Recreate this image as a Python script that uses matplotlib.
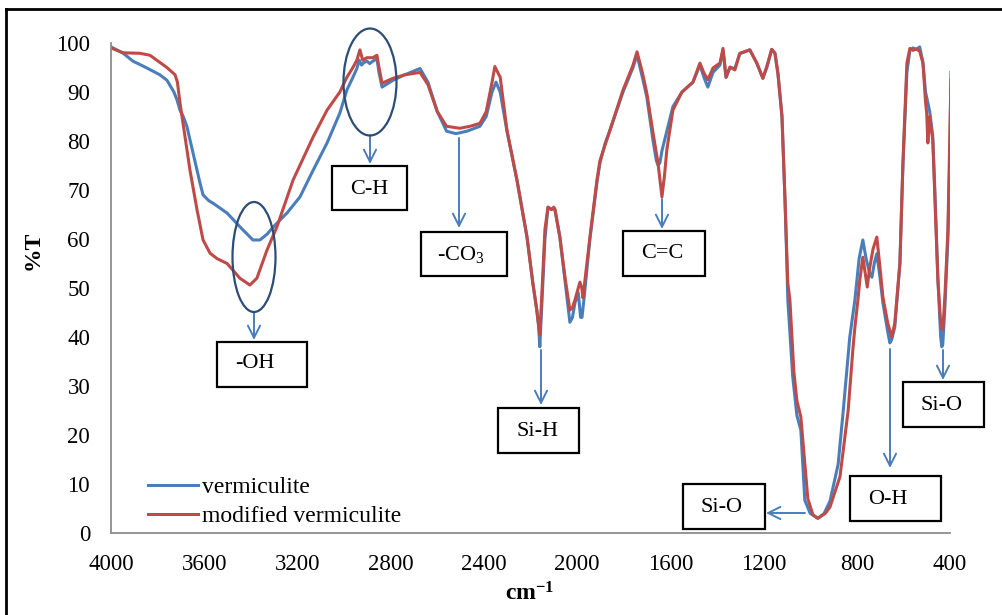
import numpy as np
import matplotlib
matplotlib.use("Agg")
import matplotlib.pyplot as plt
from matplotlib.patches import Ellipse, Rectangle
from matplotlib.lines import Line2D

plt.rcParams['font.family'] = ['Liberation Serif', 'DejaVu Serif']
plt.rcParams['mathtext.fontset'] = 'custom'
plt.rcParams['mathtext.rm'] = 'Liberation Serif'
plt.rcParams['mathtext.bf'] = 'Liberation Serif:bold'

# ---------------- data ----------------
verm_wn = [4000, 3950, 3906, 3850, 3790, 3760, 3730, 3717, 3704, 3690, 3674, 3648, 3618, 3605,
           3580, 3562, 3502, 3447, 3391, 3361, 3330, 3305, 3245, 3189, 3133, 3073, 3018, 2988,
           2962, 2945, 2935, 2925, 2915, 2902, 2890, 2876, 2859, 2850, 2837, 2820, 2790, 2740,
           2674, 2640, 2600, 2560, 2520, 2473, 2417, 2390, 2365, 2348, 2330, 2301, 2258, 2215,
           2190, 2173, 2165, 2160, 2150, 2138, 2125, 2110, 2100, 2095, 2074, 2052, 2031, 2020,
           2009, 1995, 1985, 1979, 1970, 1945, 1915, 1902, 1880, 1859, 1803, 1760, 1743, 1720,
           1701, 1674, 1660, 1653, 1645, 1636, 1615, 1589, 1550, 1503, 1473, 1456, 1439, 1417,
           1387, 1374, 1361, 1344, 1323, 1302, 1259, 1229, 1203, 1186, 1165, 1151, 1138, 1121,
           1108, 1100, 1096, 1075, 1057, 1040, 1023, 1000, 967, 940, 915, 880, 858, 830, 808,
           790, 774, 760, 745, 735, 725, 714, 700, 688, 667, 658, 650, 637, 615, 602, 585, 572,
           559, 545, 530, 516, 505, 495, 487, 474, 465, 452, 440, 435, 431, 422, 409, 400, 396]
verm_t = [99.2, 98.0, 96.3, 95.0, 93.5, 92.4, 90.0, 88.4, 86.3, 85.0, 82.9, 77.6, 71.4, 69.0,
          67.8, 67.3, 65.3, 62.5, 59.8, 59.8, 61.0, 62.4, 65.3, 68.6, 74.0, 79.6, 85.7, 90.4,
          93.0, 94.8, 96.5, 95.5, 96.0, 96.3, 95.8, 96.3, 96.8, 94.0, 91.0, 91.5, 92.4, 93.5,
          94.8, 92.0, 86.0, 82.0, 81.5, 82.0, 83.0, 85.0, 90.0, 92.0, 90.0, 82.0, 72.0, 60.4,
          51.0, 45.5, 42.0, 38.0, 48.0, 60.0, 66.5, 66.0, 66.3, 66.0, 60.4, 51.5, 43.0, 44.0,
          47.0, 49.0, 44.0, 44.0, 48.0, 60.0, 71.5, 75.5, 79.5, 82.2, 90.0, 95.0, 97.6, 93.0,
          89.0, 80.0, 76.0, 75.1, 75.5, 78.0, 82.0, 87.0, 90.0, 92.0, 95.5, 93.0, 91.0, 94.0,
          95.5, 98.5, 93.0, 95.0, 94.8, 97.8, 98.6, 95.9, 92.8, 95.0, 98.7, 97.9, 93.5, 85.0,
          68.0, 55.0, 47.6, 32.0, 24.0, 21.0, 6.7, 4.0, 3.0, 4.0, 6.5, 14.0, 25.0, 40.0, 47.6,
          56.0, 59.8, 56.0, 53.0, 52.2, 55.0, 57.0, 52.0, 47.0, 41.0, 38.8, 39.5, 42.0, 55.0,
          75.0, 94.0, 98.5, 99.0, 98.7, 99.2, 96.0, 90.0, 87.8, 86.0, 81.0, 70.0, 52.0, 40.0,
          38.0, 38.5, 46.0, 60.0, 78.0, 94.0]

mod_wn = [4000, 3950, 3876, 3833, 3760, 3725, 3715, 3704, 3682, 3661, 3631, 3605, 3575, 3545,
          3502, 3447, 3404, 3374, 3331, 3288, 3219, 3133, 3073, 3018, 2988, 2962, 2945, 2932,
          2920, 2902, 2876, 2859, 2850, 2837, 2790, 2740, 2674, 2640, 2600, 2560, 2503, 2460,
          2417, 2390, 2365, 2353, 2330, 2301, 2258, 2215, 2190, 2173, 2160, 2150, 2138, 2125,
          2110, 2100, 2095, 2074, 2052, 2031, 2020, 2009, 1995, 1988, 1980, 1975, 1945, 1915,
          1902, 1859, 1803, 1760, 1743, 1720, 1701, 1674, 1653, 1636, 1625, 1615, 1589, 1550,
          1503, 1473, 1456, 1439, 1417, 1387, 1374, 1361, 1344, 1323, 1302, 1259, 1229, 1203,
          1186, 1165, 1151, 1138, 1121, 1108, 1096, 1087, 1070, 1057, 1040, 1010, 988, 967,
          935, 915, 872, 837, 817, 808, 795, 787, 774, 755, 745, 730, 714, 700, 688, 667, 650,
          637, 615, 602, 585, 572, 559, 545, 530, 516, 505, 500, 495, 487, 474, 465, 452, 440,
          431, 422, 409, 396]
mod_t = [99.0, 98.0, 97.9, 97.5, 95.0, 93.5, 92.0, 87.8, 80.8, 74.0, 66.0, 59.8, 57.1, 56.0,
         55.0, 52.0, 50.6, 52.0, 57.7, 62.5, 72.0, 80.8, 86.3, 90.0, 93.0, 95.0, 96.5, 98.6,
         96.5, 97.0, 97.0, 97.5, 95.0, 91.8, 92.8, 93.5, 94.0, 91.5, 86.0, 83.0, 82.6, 83.0,
         83.6, 86.0, 92.0, 95.2, 93.0, 82.2, 72.0, 60.4, 51.0, 45.5, 40.4, 50.0, 62.0, 66.5,
         66.0, 66.5, 66.0, 60.4, 52.2, 45.5, 46.0, 47.6, 50.0, 51.2, 50.0, 48.0, 60.4, 72.0,
         76.0, 82.2, 90.4, 95.5, 98.2, 94.0, 89.8, 81.6, 75.5, 68.6, 73.0, 78.2, 86.3, 90.0,
         92.0, 95.9, 93.9, 92.5, 94.9, 95.9, 98.9, 93.0, 95.1, 94.5, 97.9, 98.6, 95.9, 92.8,
         95.2, 98.7, 97.9, 93.8, 85.0, 68.0, 51.0, 47.6, 33.0, 27.0, 23.7, 7.0, 3.7, 3.0,
         4.0, 5.3, 11.5, 25.0, 37.3, 42.0, 47.6, 51.6, 56.3, 50.2, 54.0, 58.0, 60.4, 54.0, 48.2,
         42.8, 40.0, 42.8, 55.0, 75.5, 95.9, 98.9, 98.5, 98.8, 98.3, 95.9, 88.0, 85.7, 79.6,
         85.0, 80.2, 68.6, 51.6, 42.8, 41.4, 48.2, 61.8, 92.4]

series_names = ['vermiculite', 'modified vermiculite']
xticks = [4000, 3600, 3200, 2800, 2400, 2000, 1600, 1200, 800, 400]
yticks = [0, 10, 20, 30, 40, 50, 60, 70, 80, 90, 100]

# ---------------- styling ----------------
W, H = 1002, 615
BLUE = '#4A7EBB'
RED = '#BE4B48'
ELL = '#2C4D75'

fig = plt.figure(figsize=(W / 100, H / 100), dpi=100)
ax = fig.add_axes([111 / W, 1 - 533 / H, (950 - 111) / W, (533 - 43) / H])

ax.plot(verm_wn, verm_t, color=BLUE, lw=2.2, label=series_names[0], solid_joinstyle='round')
ax.plot(mod_wn, mod_t, color=RED, lw=2.2, label=series_names[1], solid_joinstyle='round')

ax.set_xlim(4000, 400)
ax.set_ylim(0, 100)
ax.set_xticks(xticks)
ax.set_yticks(yticks)
ax.tick_params(length=0, labelsize=16.5)
ax.tick_params(axis='x', pad=15)
ax.tick_params(axis='y', pad=15)
for s in ['top', 'right']:
    ax.spines[s].set_visible(False)
for s in ['left', 'bottom']:
    ax.spines[s].set_color('#8C8C8C')
    ax.spines[s].set_linewidth(1.3)

leg = ax.legend(loc='lower left', bbox_to_anchor=(148 / W, 1 - 527 / H),
                bbox_transform=fig.transFigure, frameon=False, fontsize=17,
                handlelength=2.1, handletextpad=0.2, labelspacing=0.3,
                borderpad=0, borderaxespad=0)

def fx(px):
    return px / W

def fy(py):
    return 1 - py / H

fig.text(fx(33), fy(250), '%T', rotation=90, fontsize=17, fontweight='bold',
         ha='center', va='center')
fig.text(fx(530), fy(594), r'$\mathbf{cm^{-1}}$', fontsize=17, ha='center', va='center')

# outer frame (top and left visible)
fig.add_artist(Line2D([fx(6), fx(1002)], [fy(9), fy(9)], color='black', lw=2))
fig.add_artist(Line2D([fx(6), fx(6)], [fy(9), fy(615)], color='black', lw=2))

# ellipses
for cx, cy, w, h in [(370, 82, 53, 107), (254, 257, 43, 110)]:
    fig.add_artist(Ellipse((fx(cx), fy(cy)), w / W, h / H, transform=fig.transFigure,
                           fill=False, ec=ELL, lw=1.6))

# arrows
arrows = [((370, 135), (370, 164)), ((254, 312), (254, 340)), ((459, 138), (459, 228)),
          ((541, 350), (541, 405)), ((662, 199), (662, 229)), ((805, 513), (766, 513)),
          ((890, 349), (890, 468)), ((943, 350), (943, 380))]
for (x0, y0), (x1, y1) in arrows:
    ax.annotate('', xy=(fx(x1), fy(y1)), xytext=(fx(x0), fy(y0)),
                xycoords='figure fraction', textcoords='figure fraction',
                arrowprops=dict(arrowstyle='->', color=BLUE, lw=1.4,
                                mutation_scale=22, shrinkA=0, shrinkB=0))

# labelled boxes: (left, top, right, bottom, text centre x, text centre y, label)
boxes = [(332, 166, 407, 210, 369, 189, 'C-H'),
         (217, 342, 307, 387, 255, 364, '-OH'),
         (421, 232, 507, 276, 461, 255, '-CO$_3$'),
         (498, 408, 579, 453, 537, 431, 'Si-H'),
         (623, 231, 705, 276, 662, 253, 'C=C'),
         (683, 484, 765, 529, 722, 507, 'Si-O'),
         (850, 476, 941, 521, 888, 499, 'O-H'),
         (903, 382, 984, 427, 942, 405, 'Si-O')]
for l, t, r, b, tx, ty, lab in boxes:
    fig.add_artist(Rectangle((fx(l), fy(b)), (r - l) / W, (b - t) / H,
                             transform=fig.transFigure, fill=True, fc='white',
                             ec='black', lw=1.6))
    fig.text(fx(tx), fy(ty), lab, fontsize=16, ha='center', va='center')

fig.savefig('out.png', dpi=100)
